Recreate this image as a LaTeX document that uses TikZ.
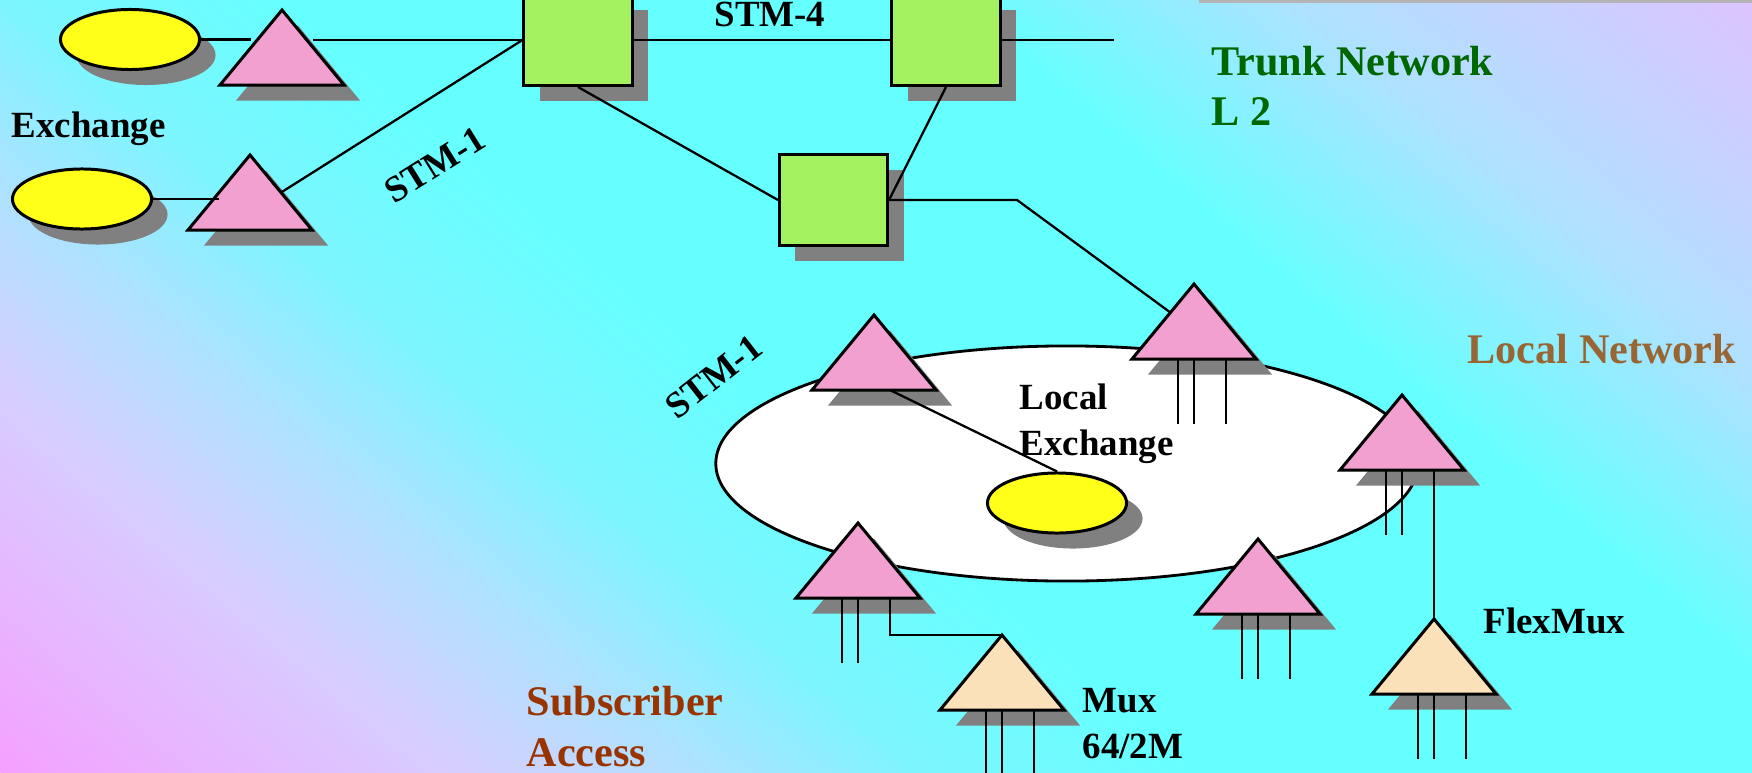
\documentclass[tikz,border=0pt]{standalone}
\usepackage{fontspec}
\setmainfont{Liberation Serif}
\usetikzlibrary{shapes.geometric,shadows,calc}

\definecolor{trigpink}{RGB}{242,160,208}
\definecolor{boxgreen}{RGB}{165,242,97}
\definecolor{exchyellow}{RGB}{255,255,25}
\definecolor{muxwheat}{RGB}{251,225,185}
\definecolor{shadowgray}{RGB}{128,128,128}
\definecolor{bargray}{RGB}{180,180,180}
\definecolor{trunkgreen}{RGB}{0,102,0}
\definecolor{localbrown}{RGB}{153,102,51}
\definecolor{subred}{RGB}{153,51,0}
\definecolor{bgpink}{RGB}{245,160,255}
\definecolor{bglav}{RGB}{215,205,255}
\definecolor{bgsky}{RGB}{175,225,255}
\definecolor{bgice}{RGB}{125,245,255}
\definecolor{bgcyan}{RGB}{102,255,255}
\definecolor{bgviolet}{RGB}{221,196,255}

\pgfdeclarehorizontalshading{backdrop}{100bp}{color(0bp)=(bgpink); color(25bp)=(bgpink);
  color(33.5bp)=(bglav); color(38bp)=(bgsky); color(42.25bp)=(bgice); color(47.5bp)=(bgcyan);
  color(60bp)=(bgcyan); color(66.5bp)=(bgsky); color(75bp)=(bgviolet); color(100bp)=(bgviolet)}

\begin{document}
\begin{tikzpicture}[x=0.01cm, y=-0.01cm,
    link/.style={line width=0.65pt},
    casting/.style={drop shadow={shadow xshift=0.16cm, shadow yshift=-0.155cm, fill=shadowgray, opacity=1}},
    exch/.style={ellipse, draw, line width=0.85pt, fill=exchyellow, minimum width=1.39cm, minimum height=0.60cm, inner sep=0pt, casting},
    dxc/.style={rectangle, draw, line width=0.85pt, fill=boxgreen, minimum width=1.08cm, minimum height=0.91cm, inner sep=0pt, casting},
    adm/.style={isosceles triangle, isosceles triangle stretches, shape border rotate=90, draw, line width=0.85pt,
      fill=trigpink, minimum width=1.24cm, minimum height=0.75cm, inner sep=0pt, outer sep=0pt, anchor=apex, casting},
    mx/.style={adm, fill=muxwheat},
    lbl/.style={font=\fontsize{10.5}{12.8}\selectfont\bfseries, inner sep=0pt, align=left},
    area/.style={font=\fontsize{12}{14.5}\selectfont\bfseries, inner sep=0pt, align=left}]

  % ========================================================
  % 0. BACKGROUND GRADIENT
  % ========================================================
  \begin{scope}
    \clip (0,0) rectangle (1752,773);
    \begin{scope}[overlay, transform canvas={rotate around={50:(876,386)}}]
      \shade[shading=backdrop] (17,-564) rectangle (1735,1336);
    \end{scope}
  \end{scope}
  \useasboundingbox (0,0) rectangle (1752,773);
  \fill[bargray] (1199,0) rectangle (1752,3);

  % ========================================================
  % 1. LOCAL RING
  % ========================================================
  \node[ellipse, draw, line width=0.8pt, fill=white, minimum width=7.02cm, minimum height=2.35cm] (ring) at (1067,463.5) {};

  % ========================================================
  % 2. EXCHANGES, CROSS-CONNECTS, ADD-DROP MUXES
  % ========================================================
  \node[exch] (ea) at (130,39.5) {};
  \node[exch] (eb) at (82,199) {};
  \node[exch] (ec) at (1057,503) {};

  \node[dxc] (s1) at (578,40) {};
  \node[dxc] (s2) at (946,40) {};
  \node[dxc] (s3) at (833.5,200) {};

  \node[adm] (ta) at (282,10) {};
  \node[adm] (tb) at (250,155) {};
  \node[adm] (t4) at (874,315) {};
  \node[adm] (t5) at (1194,284) {};
  \node[adm] (t6) at (1402,395) {};
  \node[adm] (t7) at (1258,539) {};
  \node[adm] (t8) at (858,523) {};
  \node[mx] (mux) at (1002,635) {};
  \node[mx] (flex) at (1434,619) {};

  % ========================================================
  % 3. LINKS
  % ========================================================
  \draw[link] (ea.east) -- (ea.east -| ta.left side);
  \draw[link] (ta.right side |- s1.west) -- (s1.west);
  \draw[link] (eb.east) -- (eb.east -| tb.left side);
  \draw[link] (tb.right side) -- (s1.west);
  \draw[link] (s1.east) -- (s2.west);
  \draw[link] (s2.east) -- ++(112,0);
  \draw[link] (s1.south) -- (s3.west);
  \draw[link] (s2.south) -- (s3.east);
  \draw[link] (s3.east) -- ++(128,0) -- (t5);
  \draw[link] ([shift={(16,0)}]t4.lower side) -- (ec.north);

  % tributaries
  \foreach \tr in {t5,t6,t7,t8,mux,flex}
    \draw[link] ([shift={(-16,0)}]\tr.lower side) -- ++(0,65)
                (\tr.lower side) -- ++(0,65);
  \foreach \tr in {t5,t7,mux,flex}
    \draw[link] ([shift={(32,0)}]\tr.lower side) -- ++(0,65);
  \draw[link] ([shift={(32,0)}]t6.lower side) -- (flex.apex);
  \draw[link] ([shift={(32,0)}]t8.lower side) |- (mux.apex);

  % ========================================================
  % 4. LABELS (multi-line: anchor on last baseline)
  % ========================================================
  \node[lbl, anchor=base west] (exlbl) at (11,138) {Exchange};
  \node[lbl, anchor=base] (stmfour) at (770,27) {STM-4};
  \node[lbl, rotate=32] (stmup) at (435,165) {STM-1};
  \node[lbl, rotate=38] (stmlow) at (714,377) {STM-1};
  \node[lbl, anchor=base west] (lexlbl) at (1019,455) {Local\\Exchange};
  \node[lbl, anchor=base west] (muxlbl) at (1082,758) {Mux\\64/2M};
  \node[lbl, anchor=base west] (flexlbl) at (1483,633) {FlexMux};

  \node[area, text=trunkgreen, anchor=base west] (trunk) at (1211,126) {Trunk Network\\L 2};
  \node[area, text=localbrown, anchor=base west] (localnet) at (1467,363) {Local Network};
  \node[area, text=subred, anchor=base west] (subacc) at (526,766) {Subscriber\\Access};

\end{tikzpicture}
\end{document}
